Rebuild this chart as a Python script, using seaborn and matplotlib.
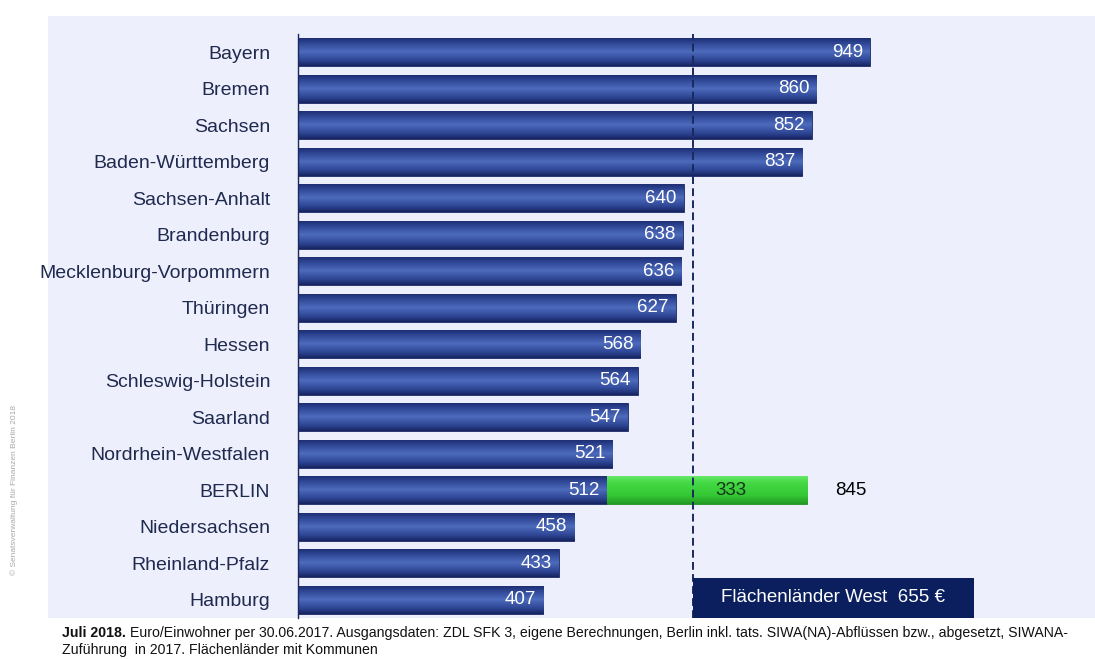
import numpy as np
import pandas as pd
import matplotlib
matplotlib.use("Agg")
import matplotlib.pyplot as plt
import matplotlib.transforms as mtransforms
from matplotlib.patches import Rectangle
from matplotlib.colors import LinearSegmentedColormap
from matplotlib import font_manager as fm
import seaborn as sns

# ---- data ----
laender = ["Bayern", "Bremen", "Sachsen", "Baden-Württemberg", "Sachsen-Anhalt",
           "Brandenburg", "Mecklenburg-Vorpommern", "Thüringen", "Hessen",
           "Schleswig-Holstein", "Saarland", "Nordrhein-Westfalen", "BERLIN",
           "Niedersachsen", "Rheinland-Pfalz", "Hamburg"]
werte = [949, 860, 852, 837, 640, 638, 636, 627, 568, 564, 547, 521, 512, 458, 433, 407]
zusatz_land = "BERLIN"
zusatz_wert = 333
west_wert = 655
west_label = "Flächenländer West  655 €"
fussnote_fett = "Juli 2018."
fussnote_1 = ("Euro/Einwohner per 30.06.2017. Ausgangsdaten: ZDL SFK 3, eigene Berechnungen, "
              "Berlin inkl. tats. SIWA(NA)-Abflüssen bzw., abgesetzt, SIWANA-")
fussnote_2 = "Zuführung  in 2017. Flächenländer mit Kommunen"
wasserzeichen = "© Senatsverwaltung für Finanzen Berlin 2018"

sns.set_theme(style="white")
plt.rcParams["font.family"] = ["Liberation Sans", "DejaVu Sans"]

narrow = ["Liberation Sans", "DejaVu Sans"]

W, H = 1095, 659
fig = plt.figure(figsize=(W / 100, H / 100), dpi=100)
fig.patch.set_facecolor("white")
panel_col = "#EEEFFC"
panel = Rectangle((48 / W, 1 - 618 / H), (W - 48) / W, (618 - 16) / H,
                  transform=fig.transFigure, facecolor=panel_col,
                  edgecolor="none", zorder=-10)
fig.add_artist(panel)

ax = fig.add_axes([298 / W, 1 - 618 / H, (1090 - 298) / W, (618 - 34) / H])
ax.set_zorder(1)
ax.set_facecolor("none")

df = pd.DataFrame({"land": laender, "wert": werte})
sns.barplot(data=df, y="land", x="wert", orient="h", color="#3A56A8",
            width=0.77, ax=ax, edgecolor="#1A2766", linewidth=0.6)
blue_patches = list(ax.patches)

bi = laender.index(zusatz_land)
green = ax.barh(bi, zusatz_wert, left=werte[bi], height=0.77, color="#3ED23E",
                edgecolor="#1E8F1E", linewidth=0.6)

blue_cmap = LinearSegmentedColormap.from_list(
    "b", [(0, "#1B2A6B"), (0.18, "#2C4391"), (0.5, "#4D6BBC"), (0.82, "#2C4391"), (1, "#172460")])
green_cmap = LinearSegmentedColormap.from_list(
    "g", [(0, "#6FEA6F"), (0.25, "#45DA45"), (0.7, "#35C835"), (1, "#249A24")])
grad = np.linspace(0, 1, 64).reshape(-1, 1)
for patches, cmap in ((blue_patches, blue_cmap), (list(green), green_cmap)):
    for p in patches:
        x0, y0, w, h = p.get_x(), p.get_y(), p.get_width(), p.get_height()
        im = ax.imshow(grad, cmap=cmap, aspect="auto", extent=[x0, x0 + w, y0 + h, y0],
                       zorder=p.get_zorder() + 0.1, interpolation="bilinear")
        im.set_clip_path(p)

ax.set_xlim(0, (1090 - 298) / ((870 - 298) / 949))
ax.set_ylim(len(laender) - 0.5, -0.5)

for i, v in enumerate(werte):
    ax.annotate(str(v), (v, i), xytext=(-5, 0), textcoords="offset points",
                ha="right", va="center", color="white", fontsize=13.5, zorder=5)
ax.annotate(str(zusatz_wert), (werte[bi] + zusatz_wert / 2, bi), xytext=(17, 0),
            textcoords="offset points", ha="center", va="center", color="#14361A",
            fontsize=13.5, zorder=5)
ax.annotate(str(werte[bi] + zusatz_wert), (werte[bi] + zusatz_wert, bi), xytext=(20, 0),
            textcoords="offset points", ha="left", va="center", color="black",
            fontsize=13.5, zorder=5)

ax.axvline(west_wert, color="#1A2A5E", lw=1.4, ls=(0, (4, 2.2)), zorder=4)

trans = mtransforms.blended_transform_factory(ax.transData, ax.transAxes)
box_w = (973 - 692) / ((870 - 298) / 949)
ax.add_patch(Rectangle((west_wert, 0), box_w, 40 / 584, transform=trans,
                       facecolor="#0B1F5E", edgecolor="none", zorder=6, clip_on=False))
ax.text(west_wert + box_w / 2, 20 / 584, west_label, transform=trans, ha="center",
        va="center", color="white", fontsize=13.5, zorder=7)

ax.set_xticks([])
ax.set_xlabel("")
ax.set_ylabel("")
ax.tick_params(axis="y", length=0, pad=20, labelsize=14, labelcolor="#1F2A4F")
for s in ("top", "right", "bottom"):
    ax.spines[s].set_visible(False)
ax.spines["left"].set_color("#1A2A5E")
ax.spines["left"].set_linewidth(1.0)

fig.text(62 / W, 1 - 633 / H, fussnote_fett, fontsize=10.2, fontweight="bold",
         family=narrow, va="center", color="#111111")
fig.text(130 / W, 1 - 633 / H, fussnote_1, fontsize=10.2, family=narrow,
         va="center", color="#111111")
fig.text(62 / W, 1 - 650 / H, fussnote_2, fontsize=10.2, family=narrow,
         va="center", color="#111111")
fig.text(14 / W, 1 - 490 / H, wasserzeichen, fontsize=6, family=narrow, rotation=90,
         ha="center", va="center", color="#A8A8A8")

fig.savefig("out.png", dpi=100)
